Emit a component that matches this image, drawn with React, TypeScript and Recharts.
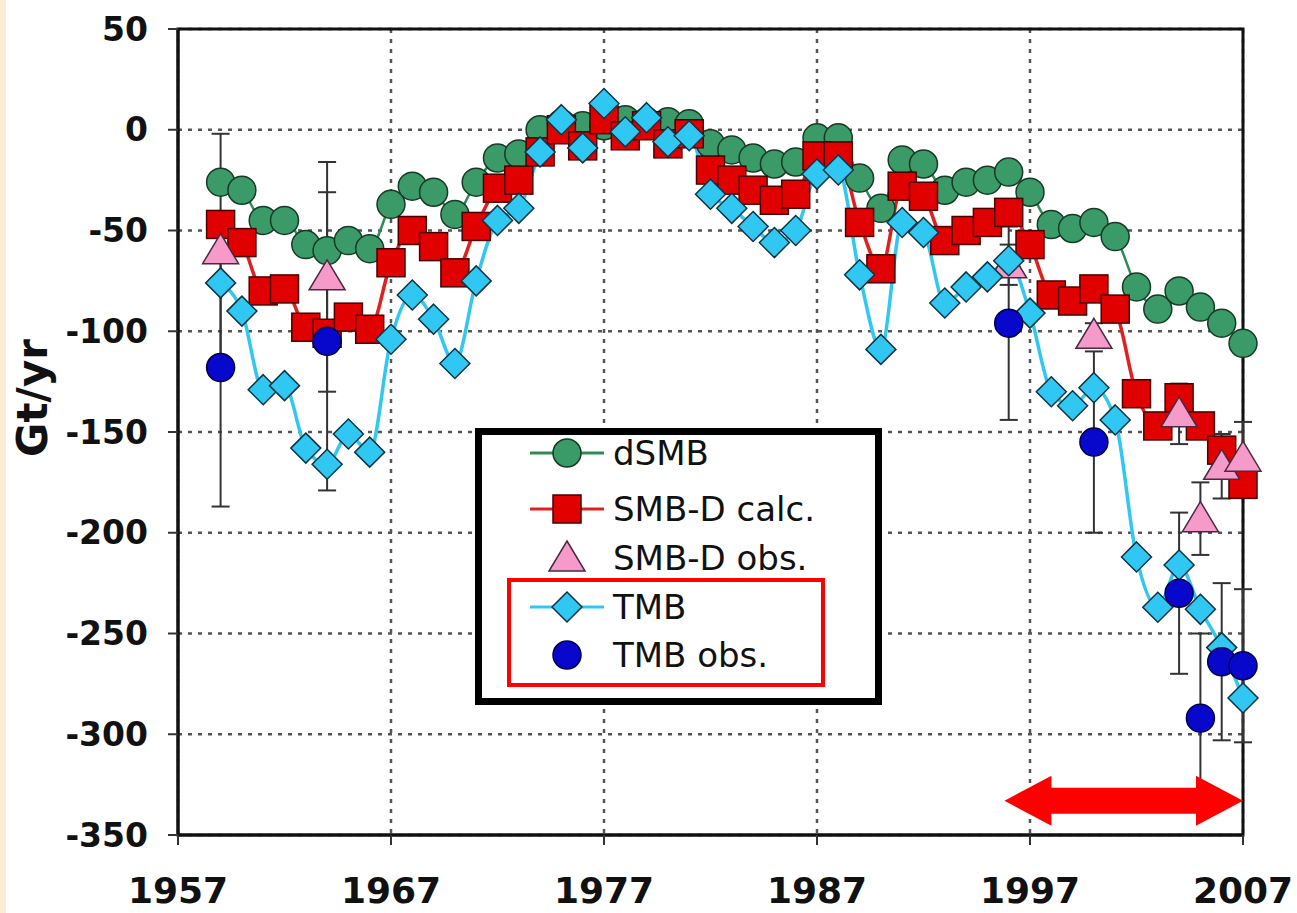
import { ComposedChart, Line, XAxis, YAxis, CartesianGrid, ErrorBar, ReferenceArea, ReferenceLine } from 'recharts';

// yearly model series, 1959-2007
const years = [
  1959, 1960, 1961, 1962, 1963, 1964, 1965, 1966, 1967, 1968,
  1969, 1970, 1971, 1972, 1973, 1974, 1975, 1976, 1977, 1978,
  1979, 1980, 1981, 1982, 1983, 1984, 1985, 1986, 1987, 1988,
  1989, 1990, 1991, 1992, 1993, 1994, 1995, 1996, 1997, 1998,
  1999, 2000, 2001, 2002, 2003, 2004, 2005, 2006, 2007,
];
const dSMB = [
  -26, -30, -45, -45, -57, -60, -55, -59, -37, -28,
  -31, -42, -26, -14, -12, 0, 3, 2, 2, 5,
  4, 4, 3, -7, -10, -14, -17, -16, -4, -4,
  -24, -39, -15, -17, -30, -26, -25, -21, -31, -47,
  -49, -46, -53, -78, -89, -80, -88, -96, -106,
];
const smbdCalc = [
  -47, -56, -80, -79, -98, -101, -93, -99, -66, -50,
  -58, -71, -48, -29, -25, -11, 0, -8, 5, -3,
  2, -7, -2, -20, -25, -30, -35, -32, -13, -13,
  -46, -69, -28, -33, -55, -50, -46, -41, -57, -82,
  -85, -79, -89, -131, -147, -133, -147, -159, -176,
];
const tmb = [
  -76, -90, -129, -127, -158, -166, -151, -160, -104, -82,
  -94, -116, -75, -45, -39, -11, 5, -9, 13, -1,
  6, -6, -3, -32, -39, -48, -56, -50, -22, -20,
  -72, -109, -46, -51, -86, -78, -73, -65, -91, -130,
  -137, -128, -144, -212, -237, -216, -238, -257, -282,
];

// observations with error bars
const obsYears = [1959, 1964, 1996, 2000, 2004, 2005, 2006, 2007];
const smbdObs = [-60, -73, -67, -102, -141, -193, -167, -163];
const smbdObsErr = [58, 57, 10, 6, 15, 18, 16, 18];
const tmbObs = [-118, -105, -96, -155, -230, -292, -264, -266];
const tmbObsErr = [69, 74, 48, 45, 40, 42, 39, 38];

const xTicks = [1957, 1967, 1977, 1987, 1997, 2007];
const yTicks = [-350, -300, -250, -200, -150, -100, -50, 0, 50];

// double arrow marking the recent period
const arrowFrom = 1995.8;
const arrowTo = 2007;
const arrowLevel = -333;

const modelData = years.map((year, i) => ({ year, dSMB: dSMB[i], calc: smbdCalc[i], tmb: tmb[i] }));
const smbdObsData = obsYears.map((year, i) => ({ year, v: smbdObs[i], err: smbdObsErr[i] }));
const tmbObsData = obsYears.map((year, i) => ({ year, v: tmbObs[i], err: tmbObsErr[i] }));

const FONT = '"DejaVu Sans", Verdana, sans-serif';

const GREEN = '#3a9a68';
const RED = '#e00000';
const PINK = '#f59ac9';
const CYAN = '#30c8f2';
const BLUE = '#0808cc';

const GreenDot = ({ cx, cy }: any) => <circle cx={cx} cy={cy} r={14} fill={GREEN} stroke="#173a26" strokeWidth={1.5} />;
const RedSquare = ({ cx, cy }: any) => <rect x={cx - 14} y={cy - 14} width={28} height={28} fill={RED} stroke="#4a0000" strokeWidth={1.5} />;
const Diamond = ({ cx, cy }: any) => (
  <polygon points={`${cx},${cy - 15} ${cx + 15},${cy} ${cx},${cy + 15} ${cx - 15},${cy}`} fill={CYAN} stroke="#0b3545" strokeWidth={1.5} />
);
const Triangle = ({ cx, cy }: any) => (
  <polygon points={`${cx},${cy - 17} ${cx + 18},${cy + 13} ${cx - 18},${cy + 13}`} fill={PINK} stroke="#4a2a40" strokeWidth={1.5} />
);
const BlueDot = ({ cx, cy }: any) => <circle cx={cx} cy={cy} r={14} fill={BLUE} stroke="#00004a" strokeWidth={1.5} />;

const DoubleArrow = ({ x1, y1, x2 }: any) => {
  const head = 47, hh = 25, sh = 13;
  const pts = [
    [x1, y1], [x1 + head, y1 - hh], [x1 + head, y1 - sh], [x2 - head, y1 - sh], [x2 - head, y1 - hh],
    [x2, y1], [x2 - head, y1 + hh], [x2 - head, y1 + sh], [x1 + head, y1 + sh], [x1 + head, y1 + hh],
  ];
  return <polygon points={pts.map((p) => p.join(',')).join(' ')} fill="#ff0000" />;
};

const YLabel = () => (
  <text x={32} y={398} transform="rotate(-90 32 398)" textAnchor="middle" dominantBaseline="central"
    fontFamily={FONT} fontWeight="bold" fontSize={42} fill="#111">Gt/yr</text>
);

const legendRows = [
  { name: 'dSMB', line: '#2e8b57', icon: (x: number, y: number) => <GreenDot cx={x} cy={y} />, top: 453 },
  { name: 'SMB-D calc.', line: '#e02020', icon: (x: number, y: number) => <RedSquare cx={x} cy={y} />, top: 509 },
  { name: 'SMB-D obs.', line: null, icon: (x: number, y: number) => <Triangle cx={x} cy={y} />, top: 558 },
  { name: 'TMB', line: CYAN, icon: (x: number, y: number) => <Diamond cx={x} cy={y} />, top: 607 },
  { name: 'TMB obs.', line: null, icon: (x: number, y: number) => <BlueDot cx={x} cy={y} />, top: 655 },
];

function ChartLegend() {
  return (
    <>
      <div style={{ position: 'absolute', left: 475, top: 428, width: 407, height: 277, border: '7px solid #000', boxSizing: 'border-box', background: '#fff' }} />
      {legendRows.map((r) => (
        <div key={r.name} style={{ position: 'absolute', left: 528, top: r.top - 22, height: 44, display: 'flex', alignItems: 'center' }}>
          <svg width={80} height={44}>
            {r.line && <line x1={2} y1={22} x2={76} y2={22} stroke={r.line} strokeWidth={3} />}
            {r.icon(39, 22)}
          </svg>
          <span style={{ fontFamily: FONT, fontSize: 34, color: '#111', marginLeft: 5, whiteSpace: 'nowrap' }}>{r.name}</span>
        </div>
      ))}
      <div style={{ position: 'absolute', left: 507, top: 578, width: 318, height: 109, border: '4px solid #ff0000', boxSizing: 'border-box' }} />
    </>
  );
}

export default function App() {
  return (
    <div style={{ position: 'relative', width: 1297, height: 913, background: '#fff', overflow: 'hidden' }}>
      <style>{'body{margin:0}'}</style>
      <div style={{ position: 'absolute', left: 0, top: 0, width: 6, height: 913, background: '#fcecd6' }} />
      <ComposedChart width={1297} height={913} data={modelData} margin={{ top: 29, right: 54, bottom: 0, left: 0 }}>
        <CartesianGrid stroke="#555" strokeWidth={2.5} strokeDasharray="4 6" />
        <XAxis
          dataKey="year"
          type="number"
          domain={[1957, 2007]}
          ticks={xTicks}
          height={78}
          axisLine={{ stroke: '#111', strokeWidth: 3 }}
          tickLine={{ stroke: '#333', strokeWidth: 2 }}
          tickSize={10}
          tickMargin={32}
          tick={{ fontFamily: FONT, fontWeight: 'bold', fontSize: 36, fill: '#111' }}
        />
        <YAxis
          type="number"
          domain={[-350, 50]}
          ticks={yTicks}
          width={178}
          axisLine={{ stroke: '#111', strokeWidth: 3 }}
          tickLine={{ stroke: '#333', strokeWidth: 2 }}
          tickSize={10}
          tickMargin={20}
          tick={{ fontFamily: FONT, fontWeight: 'bold', fontSize: 33, fill: '#111' }}
          label={{ content: () => <YLabel /> }}
        />
        <ReferenceArea x1={1957} x2={2007} y1={-350} y2={50} fill="none" stroke="#111" strokeWidth={3} />
        <Line
          type="monotone"
          dataKey="dSMB"
          stroke="#2e8b57"
          strokeWidth={2.5}
          dot={(p: any) => <GreenDot key={`g${p.index}`} cx={p.cx} cy={p.cy} />}
          activeDot={false}
          isAnimationActive={false}
        />
        <Line
          type="monotone"
          dataKey="calc"
          stroke="#e02020"
          strokeWidth={3.5}
          dot={(p: any) => <RedSquare key={`r${p.index}`} cx={p.cx} cy={p.cy} />}
          activeDot={false}
          isAnimationActive={false}
        />
        <Line
          data={smbdObsData}
          dataKey="v"
          stroke="none"
          dot={(p: any) => <Triangle key={`t${p.index}`} cx={p.cx} cy={p.cy} />}
          activeDot={false}
          isAnimationActive={false}
        >
          <ErrorBar dataKey="err" direction="y" width={9} stroke="#333" strokeWidth={2} />
        </Line>
        <Line
          type="monotone"
          dataKey="tmb"
          stroke={CYAN}
          strokeWidth={3.5}
          dot={(p: any) => <Diamond key={`c${p.index}`} cx={p.cx} cy={p.cy} />}
          activeDot={false}
          isAnimationActive={false}
        />
        <Line
          data={tmbObsData}
          dataKey="v"
          stroke="none"
          dot={(p: any) => <BlueDot key={`b${p.index}`} cx={p.cx} cy={p.cy} />}
          activeDot={false}
          isAnimationActive={false}
        >
          <ErrorBar dataKey="err" direction="y" width={9} stroke="#333" strokeWidth={2} />
        </Line>
        <ReferenceLine
          segment={[{ x: arrowFrom, y: arrowLevel }, { x: arrowTo, y: arrowLevel }]}
          ifOverflow="visible"
          shape={(p: any) => <DoubleArrow {...p} />}
        />
      </ComposedChart>
      <ChartLegend />
    </div>
  );
}
